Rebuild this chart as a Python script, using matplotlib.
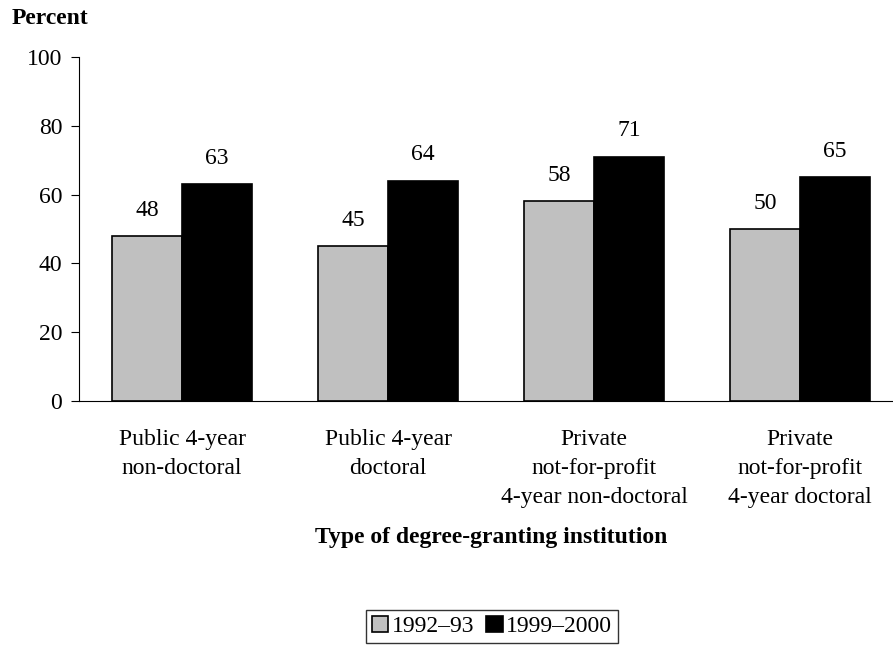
import numpy as np
import matplotlib.pyplot as plt

plt.rcParams['font.family'] = ['Liberation Serif', 'DejaVu Serif']

# Datos
categorias = ["Public 4-year\nnon-doctoral",
              "Public 4-year\ndoctoral",
              "Private\nnot-for-profit\n4-year non-doctoral",
              "Private\nnot-for-profit\n4-year doctoral"]
serie_1992 = [48, 45, 58, 50]
serie_1999 = [63, 64, 71, 65]
etiquetas = ["1992\u201393", "1999\u20132000"]

fs = 17

fig = plt.figure(figsize=(8.93, 6.45), dpi=100)
# el eje x sigue un poco más allá del borde derecho
ax = fig.add_axes([0.0885, 0.378, 0.9227, 0.534])

x = np.arange(len(categorias))
w = 0.338
b1 = ax.bar(x - w/2, serie_1992, w, color="#c0c0c0", edgecolor="black",
            linewidth=1.2, label=etiquetas[0])
b2 = ax.bar(x + w/2, serie_1999, w, color="black", edgecolor="black",
            linewidth=1.2, label=etiquetas[1])

# valores encima de cada barra
for barras in (b1, b2):
    for r in barras:
        v = r.get_height()
        ax.text(r.get_x() + r.get_width()/2, v + 7.5, f"{v:.0f}",
                ha="center", va="center", fontsize=fs)

ax.set_xlim(-0.5, 3.5)
ax.set_ylim(0, 100)
ax.set_yticks(range(0, 101, 20))
ax.set_xticks(x)
ax.set_xticklabels(categorias, fontsize=fs, linespacing=1.5)
ax.tick_params(axis="x", length=0, pad=20)
ax.tick_params(axis="y", labelsize=fs, length=6, pad=6)
for s in ("top", "right"):
    ax.spines[s].set_visible(False)

ax.set_xlabel("Type of degree-granting institution", fontsize=fs,
              fontweight="bold", labelpad=14)
fig.text(0.013, 0.972, "Percent", fontsize=fs, fontweight="bold",
         ha="left", va="center")

fig.legend(handles=[b1, b2], loc="center", bbox_to_anchor=(0.551, 0.029),
           ncol=2, fontsize=fs, frameon=True, fancybox=False,
           edgecolor="black", handlelength=0.7, handleheight=0.7,
           handletextpad=0.15, columnspacing=0.5, borderpad=0.25,
           borderaxespad=0)

fig.savefig("out.png", dpi=100)
